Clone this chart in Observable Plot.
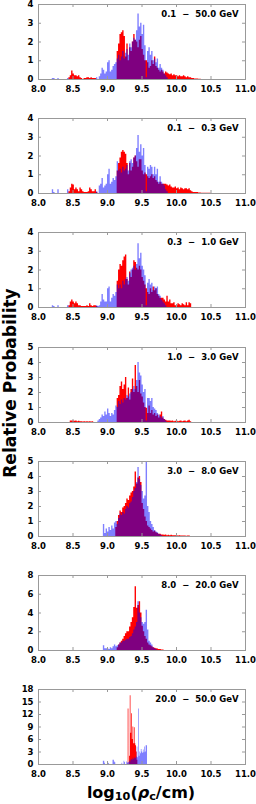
<!DOCTYPE html>
<html><head><meta charset="utf-8">
<script src="https://cdn.jsdelivr.net/npm/d3@7"></script>
<script src="https://cdn.jsdelivr.net/npm/@observablehq/plot@0.6"></script>
<style>
body{margin:0;background:#fff;}
#wrap{position:relative;width:256px;height:804px;font-family:"DejaVu Sans",sans-serif;overflow:hidden;}
.panel{position:absolute;left:0;}
#ylab{position:absolute;left:10px;top:383px;transform:translate(-50%,-50%) rotate(-90deg);font-weight:bold;font-size:17px;line-height:1;white-space:nowrap;color:#000;}
#xlab{position:absolute;left:141px;top:793px;transform:translate(-50%,-50%);font-weight:bold;font-size:16px;line-height:1;white-space:nowrap;color:#000;z-index:2;}
#xlab sub{font-size:70%;vertical-align:-0.2em;line-height:0;}
</style></head><body>
<div id="wrap"><div id="ylab">Relative Probability</div><div id="xlab">log<sub>10</sub>(<i>ρ</i><sub>c</sub>/cm)</div></div>
<script>
// ---- chart data ----
const energyLabels = ["0.1 \u2212 50.0 GeV","0.1 \u2212 0.3 GeV","0.3 \u2212 1.0 GeV","1.0 \u2212 3.0 GeV","3.0 \u2212 8.0 GeV","8.0 \u2212 20.0 GeV","20.0 \u2212 50.0 GeV"];
const yMaxes = [4,4,4,5,5,8,18];
const yTickSteps = [1,1,1,1,1,2,3];
const xTicks = [8.0,8.5,9.0,9.5,10.0,10.5,11.0];
const binWidths = [0.02,0.02,0.02,0.02,0.02,0.02,0.01];
const redStarts = [8.44,8.44,8.44,8.46,9.12,9.14,9.28];
const blueStarts = [8.20,8.20,8.20,8.86,8.94,8.94,8.94];

const red1 = [0.1,0.2,0.45, 0.3,0.2,0.2,0.15,0.2, 0.1,0.05,0,0.05,0.05, 0.1,0.1,0.05,0.1,0.05, 0.05,0.05,0,0,0, 0,0,0,0,0, 0,0,0,0,0, 0,0,1.5,1.9,2.4, 2.5,2.6,2.3,1.2,1.9, 1.0,1.7,1.5,2.0,2.4, 2.1,2.0,1.7,2.1,2.3, 1.6,1.3,1.0,1.0,0.9, 0.6,0.7,1.0,0.8,1.2, 0.7,0.6,0.5,0.4,0.5, 0.4,0.3,0.4,0.35,0.3, 0.25,0.3,0.2,0.25,0.2, 0.2,0.15,0.2,0.15,0.15, 0.2,0.15,0.1,0.15,0.1, 0.1,0.05,0.05,0.03,0.03, 0.03,0.02,0.02];
const blue1 = [0.05,0.05,0,0,0.05, 0,0,0,0,0, 0,0.05,0,0,0, 0,0,0,0,0, 0,0,0,0,0, 0,0,0,0,0, 0,0,0.1,0,0.15, 0.3,0.6,0.5,0.3,0.4, 0.9,1.0,0.4,0.5,0.7, 0.8,0.9,1.1,1.3,1.0, 1.2,1.5,1.1,1.4,1.6, 1.3,1.9,1.7,2.0,2.2, 2.1,2.6,3.5,2.8,3.0, 2.4,2.9,1.8,0.1,1.5, 1.7,1.3,1.5,1.0,1.1, 0.9,1.1,0.6,0.8,0.6, 0.5,0.3,0.2,0.1];

const red2 = [0.1,0.3,0.5, 0.45,0.2,0.3,0.2,0.1, 0.3,0.2,0.1,0.05,0.05, 0.05,0.1,0.3,0.2,0.1, 0.1,0.2,0.05,0,0, 0,0,0,0,0, 0,0,0,0,0, 0,0,1.2,1.6,1.9, 2.2,2.3,2.2,2.1,1.6, 1.0,1.6,1.2,1.4,1.9, 2.0,1.7,1.4,1.8,1.8, 1.2,1.0,1.1,1.0,0.9, 0.8,0.9,1.0,0.8,0.9, 0.7,0.6,0.5,0.6,0.5, 0.5,0.5,0.5,0.45,0.4, 0.45,0.35,0.3,0.3,0.35, 0.25,0.3,0.2,0.3,0.25, 0.2,0.25,0.25,0.2,0.25, 0.15,0.1,0.05,0.05,0.05, 0.05,0.03,0.03,0.02,0.02, 0.02,0.02,0.02,0.02,0.02];
const blue2 = [0.2,0.05,0,0,0.2, 0,0,0,0,0, 0,0.2,0,0,0, 0,0,0,0,0, 0,0,0,0,0, 0,0,0,0,0, 0,0,0.1,0,0.4, 0.5,0.8,0.3,0.4,0.5, 1.0,1.3,0.5,0.6,0.8, 0.7,0.9,1.7,1.2,1.3, 1.1,1.4,1.2,1.3,1.5, 1.2,1.7,1.8,1.6,1.9, 2.0,2.4,3.1,2.2,2.6, 2.0,2.4,1.5,0.1,1.4, 1.3,1.5,1.4,1.0,1.4, 1.0,1.3,0.6,0.9,0.6, 0.5,0.4,0.2,0.1];

const red3 = [0.1,0.3,0.4, 0.3,0.2,0.3,0.2,0.1, 0.1,0.05,0.05,0.05,0.05, 0.1,0.05,0.2,0.1,0.05, 0.1,0.1,0.05,0,0, 0,0,0,0,0, 0,0,0,0,0, 0,0,1.4,2.0,2.3, 2.2,2.5,2.7,2.8,1.5, 1.2,1.9,1.6,2.0,2.5, 2.4,2.1,2.0,2.2,2.0, 1.6,1.4,1.2,1.0,0.8, 0.7,1.0,0.8,1.1,0.9, 1.0,0.7,0.6,0.5,0.5, 0.5,0.4,0.3,0.6,0.3, 0.4,0.2,0.2,0.25,0.1, 0.1,0.2,0.15,0.1,0.2, 0.15,0.1,0.25,0.1,0.25, 0.2];
const blue3 = [0.1,0.05,0,0,0.1, 0,0,0,0,0, 0,0.1,0,0,0, 0,0,0,0,0, 0,0,0,0,0, 0,0,0,0,0, 0,0,0.1,0.05,0.1, 0.3,0.7,0.4,0.3,0.3, 1.0,1.1,0.3,0.5,0.7, 0.6,0.8,1.2,1.0,1.2, 1.0,1.4,1.2,1.5,1.6, 1.4,1.8,2.0,2.1,2.2, 2.0,2.3,3.4,2.6,2.9, 2.2,2.0,1.7,0.1,1.3, 1.5,1.2,1.3,0.9,1.1, 1.0,1.1,0.7,0.6,0.4, 0.3,0.2,0.1];

const red4 = [0.1,0.1, 0.1,0.08,0.1,0.05,0.08, 0.05,0.05,0.03,0.05,0.03, 0.05,0.03,0.05,0.03,0.05, 0,0,0,0,0, 0,0,0,0,0, 0,0,0,0,0, 0,0,1.6,1.8,2.4, 2.7,2.2,2.5,3.0,1.6, 2.3,1.5,2.2,2.9,2.0, 3.8,2.4,2.0,2.8,1.9, 1.7,1.3,1.0,0.95,0.6, 1.1,0.6,0.8,0.5,0.6, 0.4,0.5,0.3,0.5,0.7, 0.3,0.2,0.15,0.1,0.1, 0.1,0.08,0.1,0.05,0.08, 0.1,0.05,0.08,0.1,0.05, 0.08,0.1,0.05,0.1,0.15, 0.05];
const blue4 = [0.1,0.2, 0.3,0.5,0.4,0.7,0.5, 0.9,0.6,0.4,0.6,0.5, 0.8,1.1,1.0,1.4,1.2, 1.5,1.3,1.6,1.5,1.8, 1.7,1.9,2.0,2.2,2.4, 2.2,2.8,4.0,3.3,3.1, 2.5,2.0,2.2,0.1,1.6, 1.6,1.4,1.6,1.0,0.9, 0.8,0.6,0.5,0.4,0.3, 0.4,0.2,0.1];

const red5 = [0.6,1.0,1.4,1.7, 1.6,1.9,2.0,2.2,2.5, 2.4,2.7,2.9,3.0,3.3, 4.3,3.5,3.9,4.0,3.6, 2.2,1.8,1.3,1.0,0.7, 0.6,0.5,0.4,0.3,0.35, 0.25,0.2,0.15,0.15,0.1, 0.1,0.08,0.1,0.05,0.08, 0.05,0.08,0.05,0.05,0.05, 0.05,0.03,0.05,0.03,0.03, 0.03,0.03,0.02,0.03,0.03];
const blue5 = [0.8,0.2,0.5, 0.3,0.6,0.4,0.7,0.5, 0.9,1.0,0.8,1.2,1.5, 1.4,1.6,1.5,1.8,2.0, 1.9,2.2,2.3,2.6,3.0, 3.2,3.6,4.6,3.8,3.4, 3.0,2.5,2.7,5.0,2.0, 1.6,1.0,0.8,0.6,0.4, 0.3,0.25,0.15,0.1,0.05];

const red6 = [0.3,0.6,0.8, 1.0,1.2,1.5,1.8,2.0, 2.0,2.5,3.0,3.5,4.6, 6.8,4.5,4.8,5.2,4.0, 2.6,2.0,1.5,1.2,0.8, 0.6,0.5,0.4,0.3,0.25, 0.2,0.15,0.1,0.1,0.05, 0.05];
const blue6 = [0.5,0.2,0.2, 0.2,0.1,0.3,0.2,0.4, 0.6,0.4,0.5,0.6,0.8, 0.8,1.0,1.0,1.1,1.2, 1.2,1.4,1.5,1.8,2.2, 2.5,3.0,5.2,4.0,3.5, 3.0,2.8,3.0,4.3,2.2, 1.0,0.8,0.6,0.3,0.2, 0.1];

const red7 = [0,0,13.3,0,2.0,16.5,7.5,12.2,6.0,9.0,5.0,8.8,5.0,4.5,3.0,1.0];
const blue7 = [0.8,0.8,0.3,0,0,0,0,0.3,0.2,0,0,0,0,0,1.0,1.0,0.6,0.4,0,0,0,0,0,0,0,0,0,0.3,0,0,0.8,0.5,0,0,
  0.6,0.3,0.5,0.4,0.8,0.6,1.0,1.2,1.0,1.5,1.2,1.6,1.4,1.5,1.8,4.2,1.6,13.3,2.0,3.0,2.6,3.6,3.0,2.7,3.5,2.8,4.2,3.0,4.5,4.5];

const redSeries = [red1,red2,red3,red4,red5,red6,red7];
const blueSeries = [blue1,blue2,blue3,blue4,blue5,blue6,blue7];

// ---- build: histogram outlines as step areas (bin left edges + closing edge) ----
function steps(arr, start, w){
  const pts = arr.map((v,i)=>({x: start + i*w, y: v}));
  pts.push({x: start + arr.length*w, y: 0});
  return pts;
}
const wrap = document.getElementById("wrap");
const panelStep = 114.17;
const frameColor = "#999";
for (let p = 0; p < 7; p++) {
  const ymax = yMaxes[p];
  const yTicks = d3.range(0, ymax + 1e-9, yTickSteps[p]);
  const red = steps(redSeries[p], redStarts[p], binWidths[p]);
  const blue = steps(blueSeries[p], blueStarts[p], binWidths[p]);
  const tickLenY = ymax * 3 / 75;
  const tickLenX = 3 * 3 / 206.4;
  const chart = Plot.plot({
    width: 256, height: 114,
    marginLeft: 38, marginRight: 11, marginTop: 4, marginBottom: 35,
    x: {domain: [8, 11], axis: null},
    y: {domain: [0, ymax], axis: null},
    style: {fontFamily: "'DejaVu Sans', sans-serif", fontSize: "8.5px", fontWeight: "bold", color: "#000", background: "transparent", overflow: "visible"},
    marks: [
      Plot.areaY(red, {x: "x", y: "y", curve: "step-after", fill: "#ff0000"}),
      Plot.areaY(blue, {x: "x", y: "y", curve: "step-after", fill: "#0000ff", fillOpacity: 0.5}),
      Plot.ruleX(xTicks, {x: d => d, y1: 0, y2: tickLenY, stroke: frameColor}),
      Plot.ruleX(xTicks, {x: d => d, y1: ymax - tickLenY, y2: ymax, stroke: frameColor}),
      Plot.ruleY(yTicks, {y: d => d, x1: 8, x2: 8 + tickLenX, stroke: frameColor}),
      Plot.ruleY(yTicks, {y: d => d, x1: 11 - tickLenX, x2: 11, stroke: frameColor}),
      Plot.frame({stroke: frameColor}),
      Plot.axisX(xTicks, {tickSize: 0, tickPadding: 6, tickFormat: d => d.toFixed(1), fontWeight: "bold", label: null}),
      Plot.axisY(yTicks, {tickSize: 0, tickPadding: 5, tickFormat: d => String(d), fontWeight: "bold", label: null}),
      Plot.text([energyLabels[p]], {text: d => d.replace(" \u2212 ", "\u00a0\u00a0\u2212\u00a0\u00a0"), frameAnchor: "top-right", textAnchor: "end", lineAnchor: "middle", dx: -7, dy: 10, fontWeight: "bold", fontSize: 8.5, fill: "#000"})
    ]
  });
  chart.classList.add("panel");
  chart.style.top = (p * panelStep) + "px";
  wrap.appendChild(chart);
}
</script>
</body></html>
